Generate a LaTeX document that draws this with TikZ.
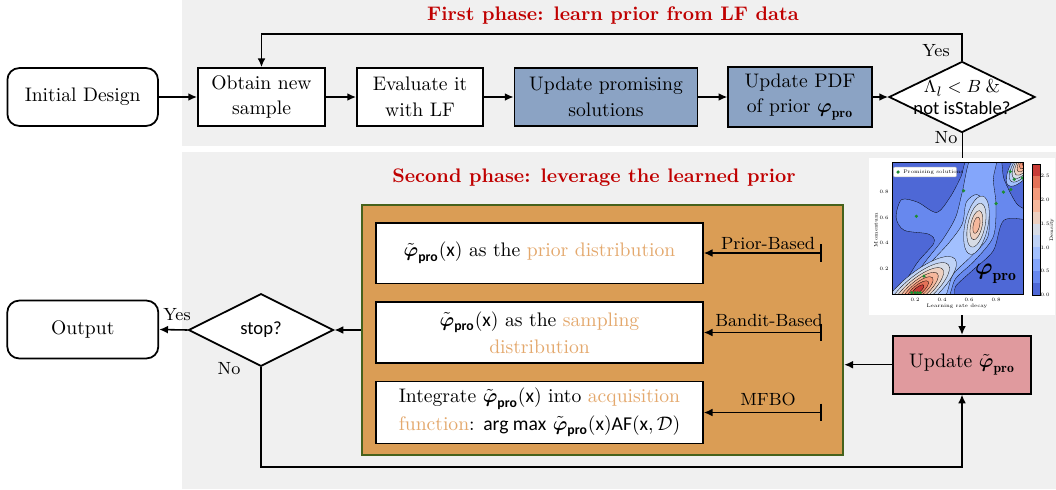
\documentclass[tikz,border=0pt]{standalone}
\usepackage{amsmath}
\usepackage{fontspec}
\setsansfont{Carlito}
\usepackage{tikz}
\usetikzlibrary{arrows.meta, shapes.geometric}

\definecolor{panelgray}{RGB}{240,240,240}
\definecolor{titlered}{RGB}{192,0,0}
\definecolor{promblue}{RGB}{139,163,196}
\definecolor{updpink}{RGB}{224,154,158}
\definecolor{stratorange}{RGB}{218,157,85}
\definecolor{stratgreen}{RGB}{70,98,28}
\definecolor{softorange}{RGB}{228,168,108}
\definecolor{dotgreen}{RGB}{30,140,50}
% coolwarm levels for the density plot
\definecolor{cA}{RGB}{78,104,214}
\definecolor{cB}{RGB}{103,136,238}
\definecolor{cC}{RGB}{132,166,251}
\definecolor{cD}{RGB}{162,192,254}
\definecolor{cE}{RGB}{190,210,246}
\definecolor{cF}{RGB}{215,220,230}
\definecolor{cG}{RGB}{237,208,192}
\definecolor{cH}{RGB}{246,184,156}
\definecolor{cI}{RGB}{244,154,123}
\definecolor{cJ}{RGB}{228,114,88}
\definecolor{cK}{RGB}{200,60,55}

\newcommand{\phipro}{\boldsymbol{\varphi}_{\mathbf{pro}}}
\newcommand{\phitil}{\tilde{\boldsymbol{\varphi}}_{\mathbf{pro}}}
\newcommand{\phisf}{\tilde{\boldsymbol{\varphi}}_{\textsf{\textbf{pro}}}}
\newcommand{\tinyfont}{\fontsize{2.6pt}{3pt}\selectfont}

\begin{document}
\begin{tikzpicture}[
    x=0.51pt, y=-0.51pt,
    box/.style={draw, line width=0.9pt, minimum height=29.5pt, align=center, font={\fontsize{10pt}{13pt}\selectfont}},
    rbox/.style={box, rounded corners=6pt},
    ibox/.style={box, fill=white, minimum width=166.6pt, minimum height=31pt, font={\fontsize{10pt}{14pt}\selectfont}},
    decision/.style={draw, diamond, line width=0.9pt, fill=white, inner sep=0pt},
    dtext/.style={align=center, font={\sffamily\fontsize{9.5pt}{11pt}\selectfont}},
    arr/.style={-{Latex[length=4.5pt,width=4pt]}, line width=0.8pt},
    barr/.style={{Bar[width=9pt]}-{Latex[length=4.5pt,width=4pt]}, line width=0.8pt},
    tag/.style={font=\small},
    title/.style={font=\bfseries, text=titlered},
    contour/.style={draw=black, line width=0.15pt}
]
\useasboundingbox (0,0) rectangle (1056,489);

% phase panels
\fill[panelgray] (182,0) rectangle (1056,146);
\fill[panelgray] (182,152) rectangle (1056,489);

\node[title] (title1) at (613,15.5) {First phase: learn prior from LF data};
\node[title] (title2) at (594,178) {Second phase: leverage the learned prior};

% first phase
\node[rbox, minimum width=76.8pt] (init) at (82.7,97) {Initial Design};
\node[box, fill=white, minimum width=64.8pt] (obtain) at (261.5,97) {Obtain new\\sample};
\node[box, fill=white, minimum width=64.3pt] (eval) at (420,97) {Evaluate it\\with LF};
\node[box, fill=promblue, minimum width=93.3pt] (promis) at (606,97) {Update promising\\solutions};
\node[box, fill=promblue, minimum width=73.2pt] (pdf) at (800,97) {Update PDF\\of prior $\phipro$};
\node[decision, minimum width=74.5pt, minimum height=36.2pt] (stable) at (962,97) {};
\node[dtext] (stabletxt) at (stable) {$\Lambda_l < B$ {\rmfamily\&}\\not isStable?};
\coordinate (yesturn) at (962,34);

\draw[arr] (init) -- (obtain);
\draw[arr] (obtain) -- (eval);
\draw[arr] (eval) -- (promis);
\draw[arr] (promis) -- (pdf);
\draw[arr] (pdf) -- (stable);
\draw[arr] (stable.north) -- (yesturn) -| (obtain.north);
\node[tag] (yes1) at (936,51) {Yes};
\node[tag] (no1) at (946,138) {No};

% density plot of the learned prior
\node[fill=white, inner sep=0pt, minimum width=94.9pt, minimum height=80pt] (plot) at (962,236.5) {};
\begin{scope}[shift={(888,294)}, x=68.85pt, y=65pt]
  \begin{scope}
    \clip (0.03,0) rectangle (1.0,1.03);
    \fill[cA] (0,0) rectangle (1.1,1.1);
    \filldraw[fill=cB, contour] plot[smooth cycle] coordinates {(0.09,-0.05) (0.20,0.22) (0.34,0.40) (0.30,0.47) (0.12,0.50) (0.06,0.60) (0.10,0.74) (0.22,0.72) (0.36,0.64) (0.46,0.76) (0.54,0.92) (0.60,1.08) (0.82,1.08) (0.86,0.90) (0.96,0.70) (1.08,0.64) (1.08,0.58) (0.86,0.58) (0.78,0.34) (0.62,0.18) (0.50,0.06) (0.46,-0.05)};
    \filldraw[fill=cC, contour] plot[smooth cycle] coordinates {(0.12,-0.05) (0.24,0.20) (0.40,0.42) (0.50,0.60) (0.55,0.80) (0.62,1.08) (0.80,1.08) (0.78,0.90) (0.80,0.70) (0.78,0.45) (0.64,0.26) (0.50,0.12) (0.42,-0.05)};
    \filldraw[fill=cD, contour] plot[smooth cycle] coordinates {(0.14,-0.05) (0.28,0.20) (0.45,0.40) (0.55,0.55) (0.58,0.72) (0.66,0.78) (0.74,0.68) (0.74,0.45) (0.62,0.30) (0.48,0.15) (0.40,-0.05)};
    \foreach \r/\c in {1/cE,0.82/cF,0.67/cG,0.53/cH,0.40/cI,0.28/cJ,0.16/cK}
      \filldraw[fill=\c, contour, rotate around={40:(0.22,0.03)}] (0.22,0.03) ellipse ({0.36*\r} and {0.13*\r});
    \foreach \r/\c in {1/cE,0.75/cF,0.5/cG,0.28/cH}
      \filldraw[fill=\c, contour, rotate around={78:(0.655,0.54)}] (0.655,0.54) ellipse ({0.22*\r} and {0.09*\r});
    \foreach \r/\c in {1/cD,0.85/cE,0.72/cF,0.6/cG,0.48/cH,0.36/cI,0.24/cJ,0.12/cK}
      \filldraw[fill=\c, contour, rotate around={55:(1.03,1.06)}] (1.03,1.06) ellipse ({0.24*\r} and {0.09*\r});
    \foreach \dx/\dy in {0.21/0.61, 0.56/0.81, 0.80/0.71, 0.855/0.80, 0.91/0.82, 0.905/0.96, 0.935/0.90, 0.995/0.91, 0.267/0.14, 0.175/0.01, 0.20/0.01, 0.22/0.01, 0.24/0.01}
      \fill[dotgreen] (\dx,\dy) circle[radius=0.9pt];
  \end{scope}
  \draw[line width=0.25pt] (0.03,0) rectangle (1.0,1.03);
\end{scope}
\node[draw=gray!50, fill=white, line width=0.2pt, rounded corners=0.5pt, inner sep=0pt, minimum width=32pt, minimum height=5pt] (legend) at (925,172) {};
\fill[dotgreen] (898,172) circle[radius=0.9pt];
\node[inner sep=0pt, anchor=west] (legtxt) at (903,172) {\tinyfont Promising solutions};
\foreach \v [count=\i] in {0.2,0.4,0.6,0.8} {
  \node[inner sep=0pt] (xt\i) at ({888+135*\v},299.5) {\tinyfont\v};
  \node[inner sep=0pt] (yt\i) at (884,{294-127.5*\v}) {\tinyfont\v};
}
\node[inner sep=0pt] (xlab) at (957,306) {\tinyfont Learning rate decay};
\node[inner sep=0pt, rotate=90] (ylab) at (876,230) {\tinyfont Momentum};
\foreach \c [count=\i from 0] in {cA,cB,cC,cD,cE,cF,cG,cH,cI,cJ,cK}
  \fill[\c] (1032,{295-\i*11.91}) rectangle (1040,{295-(\i+1)*11.91});
\draw[line width=0.2pt] (1032,164) rectangle (1040,295);
\foreach \v [count=\i] in {0.0,0.5,1.0,1.5,2.0,2.5}
  \node[inner sep=0pt] (cb\i) at (1045,{295-47.64*\v}) {\tinyfont\v};
\node[inner sep=0pt, rotate=90] (cblab) at (1052,230) {\tinyfont Density};
\node[font=\large] (plotlab) at (996,274) {$\phipro$};

\draw (stable.south) -- (plot.north);

% second phase
\node[box, fill=updpink, minimum width=70.4pt] (updphi) at (962,364.7) {Update $\phitil$};
\draw[arr] (plot.south) -- (updphi.north);

\node[draw=stratgreen, line width=0.9pt, fill=stratorange, minimum width=245.6pt, minimum height=127.5pt] (strat) at (602.5,330) {};
\node[ibox] (prior) at (539.5,253) {$\phisf(\textsf{x})$ as the \textcolor{softorange}{prior distribution}};
\node[ibox] (bandit) at (539.5,332.5) {$\phisf(\textsf{x})$ as the \textcolor{softorange}{sampling}\\\textcolor{softorange}{distribution}};
\node[ibox] (mfbo) at (539.5,412.5) {Integrate $\phisf(\textsf{x})$ into \textcolor{softorange}{acquisition}\\\textcolor{softorange}{function}: \textsf{arg max} $\phisf(\textsf{x})\textsf{AF}(\textsf{x},\mathcal{D})$};

\coordinate (priorbar) at (822,253);
\coordinate (banditbar) at (822,332.5);
\coordinate (mfbobar) at (822,412.5);
\draw[barr] (priorbar) -- (prior.east);
\draw[barr] (banditbar) -- (bandit.east);
\draw[barr] (mfbobar) -- (mfbo.east);
\node[tag] (priortag) at (768,243) {Prior-Based};
\node[tag] (bandittag) at (769,320) {Bandit-Based};
\node[tag] (mfbotag) at (768,399) {MFBO};

\draw[arr] (updphi.west) -- (updphi.west -| strat.east);

\node[decision, minimum width=74pt, minimum height=37pt] (stop) at (261,330) {};
\node[dtext] (stoptxt) at (stop) {stop?};
\node[rbox, minimum width=77pt] (output) at (82.8,329.5) {Output};
\coordinate (noturn) at (261,467);

\draw[arr] (strat.west |- stop) -- (stop.east);
\draw[arr] (stop.west) -- (output.east);
\draw[arr] (stop.south) -- (noturn) -| (updphi.south);
\node[tag] (yes2) at (177,315) {Yes};
\node[tag] (no2) at (229,369) {No};
\end{tikzpicture}
\end{document}
